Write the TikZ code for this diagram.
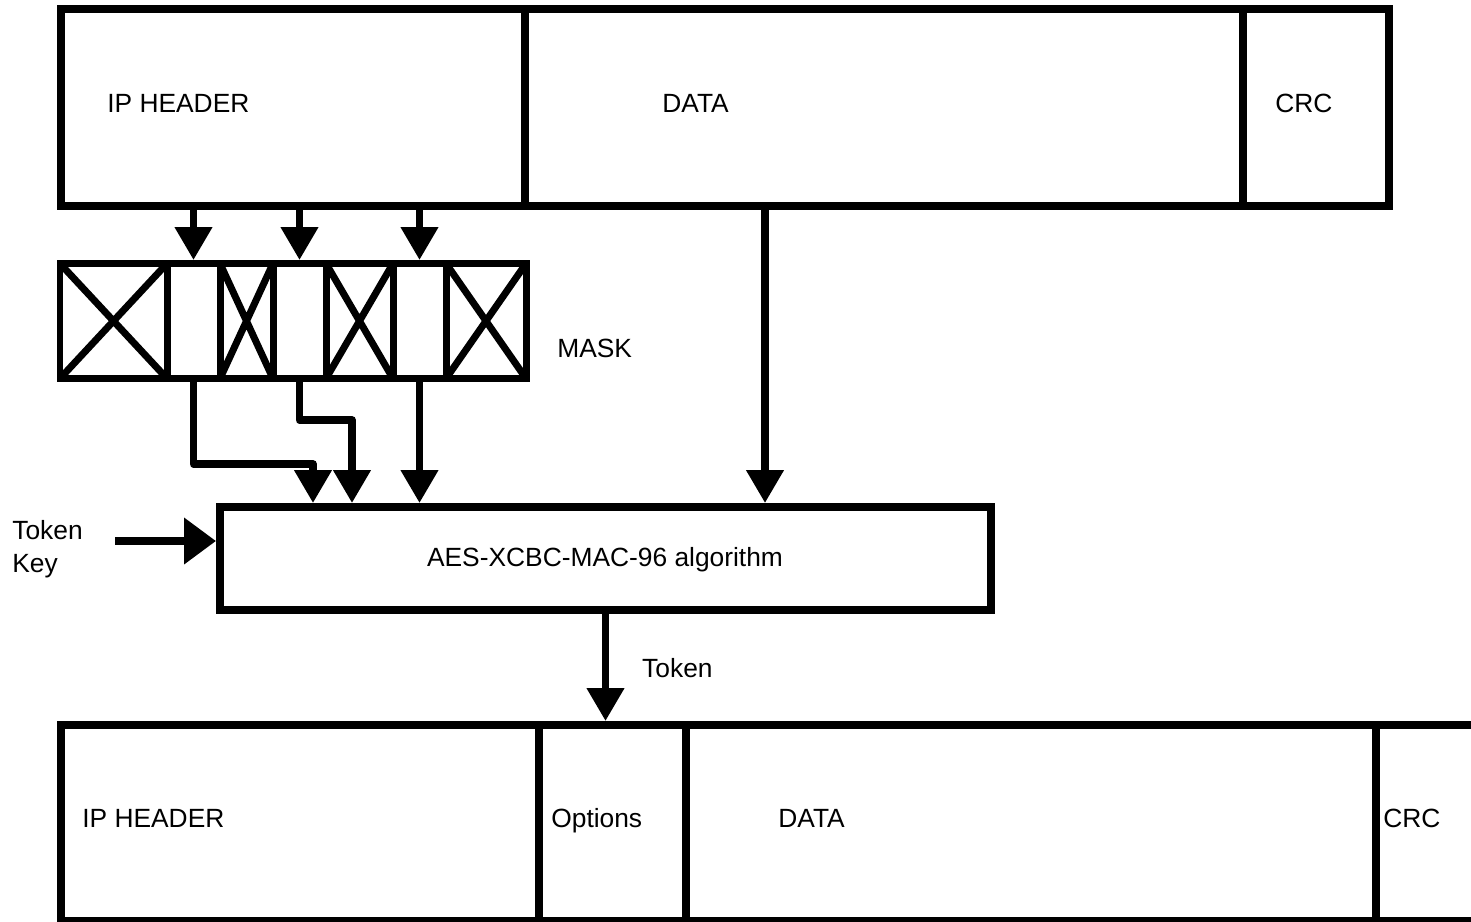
\documentclass[tikz,border=0pt]{standalone}
\usepackage{fontspec}
\setmainfont{Liberation Sans}
\usetikzlibrary{arrows.meta,positioning}
\tikzset{
  field/.style={draw=black, line width=0.16cm, minimum width=#1*0.02cm,
                inner sep=0pt},
  cell/.style={draw=black, line width=0.14cm, minimum width=#1*0.02cm,
               minimum height=115*0.02cm, inner sep=0pt},
  xcell/.style={cell=#1, path picture={
      \draw[line width=0.14cm] (path picture bounding box.north west) -- (path picture bounding box.south east)
                               (path picture bounding box.south west) -- (path picture bounding box.north east);}},
  arrowthick/.style={-{Triangle[length=6.6mm, width=7.2mm]}, line width=0.15cm, line join=round},
  lbl/.style={font={\fontsize{15pt}{19pt}\selectfont}, inner sep=0pt},
}
\begin{document}
\begin{tikzpicture}[x=0.02cm, y=-0.02cm]
  \useasboundingbox (0,0) rectangle (1471,921);

  % Paquete original
  \node[field=464, minimum height=197*0.02cm] (hdr)  at (293,107.5) {};
  \node[field=718, minimum height=197*0.02cm] (data) at (884,107.5) {};
  \node[field=146, minimum height=197*0.02cm] (crc)  at (1316,107.5) {};
  \node[lbl, anchor=base west] (thdr)  at (107,112.5) {IP HEADER};
  \node[lbl, anchor=base west] (tdata) at (662,112.5) {DATA};
  \node[lbl, anchor=base west] (tcrc)  at (1275,112.5) {CRC};

  % Mascara
  \node[xcell=107] (c1) at (113.5,321) {};
  \node[cell=53]   (c2) at (193.5,321) {};
  \node[xcell=53]  (c3) at (246.5,321) {};
  \node[cell=53]   (c4) at (299.5,321) {};
  \node[xcell=67]  (c5) at (359.5,321) {};
  \node[cell=53]   (c6) at (419.5,321) {};
  \node[xcell=80]  (c7) at (486,321) {};
  \node[lbl, anchor=base west] (tmask) at (557,357.5) {MASK};

  % Algoritmo
  \node[field=771, minimum height=103*0.02cm] (alg) at (605.5,558.5) {};
  \node[lbl, anchor=base] (talg) at (605,566) {AES-XCBC-MAC-96 algorithm};
  \node[lbl, anchor=north west, align=left] (tkey) at (12,520) {Token\\Key};

  % Paquete con opciones
  \node[field=478, minimum height=196*0.02cm] (ohdr)  at (300,823) {};
  \node[field=147, minimum height=196*0.02cm] (opt)   at (612.5,823) {};
  \node[field=690, minimum height=196*0.02cm] (odata) at (1031,823) {};
  \node[field=124, minimum height=196*0.02cm] (ocrc)  at (1438,823) {};
  \node[lbl, anchor=base west] (tohdr)  at (82,827.5) {IP HEADER};
  \node[lbl, anchor=base west] (topt)   at (551,827.5) {Options};
  \node[lbl, anchor=base west] (todata) at (778,827.5) {DATA};
  \node[lbl, anchor=base west] (tocrc)  at (1383,827.5) {CRC};

  % Flechas
  \draw[arrowthick] (c2 |- hdr.south) -- (c2.north);
  \draw[arrowthick] (c4 |- hdr.south) -- (c4.north);
  \draw[arrowthick] (c6 |- hdr.south) -- (c6.north);

  \coordinate (j1) at (313,464);
  \coordinate (j2) at (352,420);
  \draw[arrowthick] (c2.south) |- (j1) -- (j1 |- alg.north);
  \draw[arrowthick] (c4.south) |- (j2) -- (j2 |- alg.north);
  \draw[arrowthick] (c6.south) -- (c6 |- alg.north);

  \coordinate (dtap) at (765,206);
  \draw[arrowthick] (dtap) -- (dtap |- alg.north);

  \coordinate (keyin) at (115,541);
  \draw[-{Triangle[length=6.4mm, width=9mm]}, line width=0.15cm] (keyin) -- (keyin -| alg.west);

  \draw[arrowthick] (alg.south) -- (alg.south |- opt.north)
    node[lbl, pos=0.5, anchor=base west, xshift=0.66cm, yshift=-0.2cm] (ttoken) {Token};
\end{tikzpicture}
\end{document}
